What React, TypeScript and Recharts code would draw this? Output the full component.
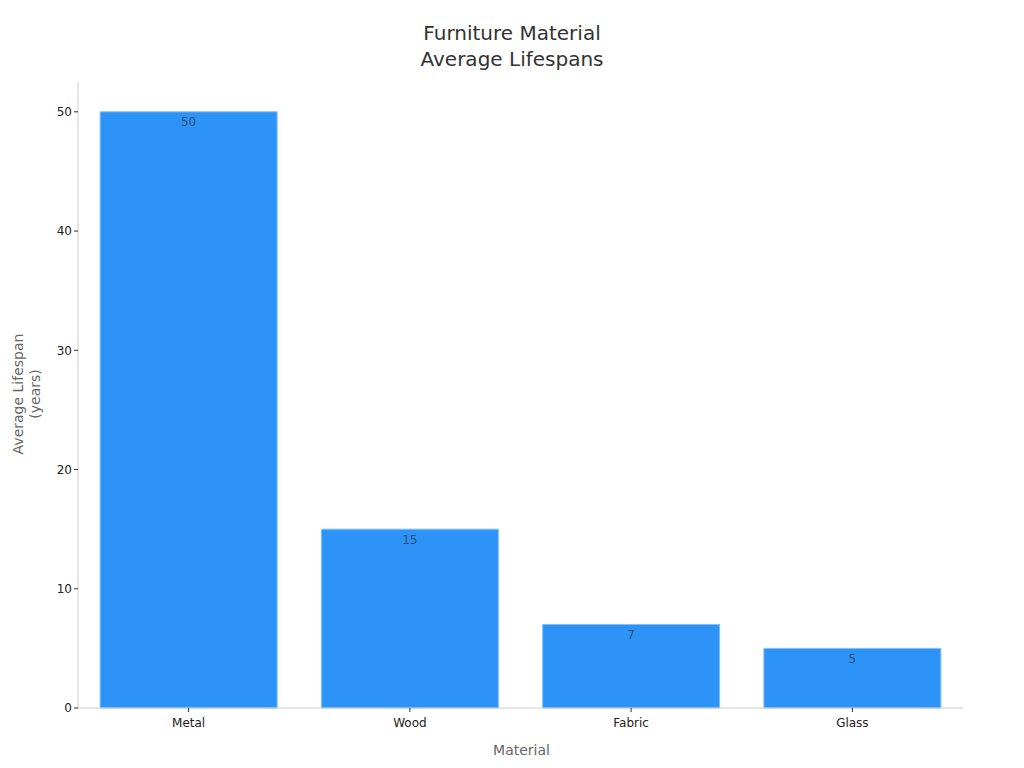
import React from 'react'
import { BarChart, Bar, XAxis, YAxis, LabelList } from 'recharts'

const materials = ['Metal', 'Wood', 'Fabric', 'Glass']
const lifespans = [50, 15, 7, 5]
const yTicks = [0, 10, 20, 30, 40, 50]

const data = materials.map((m, i) => ({ material: m, lifespan: lifespans[i] }))

const FONT = '"DejaVu Sans", sans-serif'

export default function App() {
  return (
    <div style={{ position: 'fixed', left: 0, top: 0, width: 1024, height: 768, background: '#fff', fontFamily: FONT }}>
      <div style={{ position: 'absolute', left: 0, width: 1024, top: 20, textAlign: 'center', fontSize: 20, lineHeight: '26px', color: '#333' }}>
        Furniture Material
        <br />
        Average Lifespans
      </div>
      <div
        style={{
          position: 'absolute',
          left: 27,
          top: 394,
          transform: 'translate(-50%, -50%) rotate(-90deg)',
          textAlign: 'center',
          fontSize: 14,
          lineHeight: '17px',
          color: '#666',
          whiteSpace: 'nowrap',
        }}
      >
        Average Lifespan
        <br />
        (years)
      </div>
      <div style={{ position: 'absolute', left: 79, width: 885, top: 742, textAlign: 'center', fontSize: 14, color: '#666' }}>
        Material
      </div>
      <BarChart
        width={1024}
        height={768}
        data={data}
        margin={{ top: 82, right: 61, bottom: 30, left: 0 }}
        barCategoryGap="10%"
      >
        <XAxis
          dataKey="material"
          height={30}
          stroke="#ccc"
          tickLine={{ stroke: '#333' }}
          tickSize={4}
          tickMargin={6}
          tick={{ fill: '#222', fontSize: 12, fontFamily: FONT }}
        />
        <YAxis
          width={78}
          domain={[0, 52.5]}
          ticks={yTicks}
          stroke="#ccc"
          tickLine={{ stroke: '#333' }}
          tickSize={4}
          tick={{ fill: '#222', fontSize: 12, fontFamily: FONT }}
        />
        <Bar dataKey="lifespan" fill="#2e93f7" stroke="#7cc0fb" strokeWidth={1} isAnimationActive={false}>
          <LabelList dataKey="lifespan" position="insideTop" offset={6} fill="#2c4f78" fontSize={12} fontFamily={FONT} />
        </Bar>
      </BarChart>
    </div>
  )
}
